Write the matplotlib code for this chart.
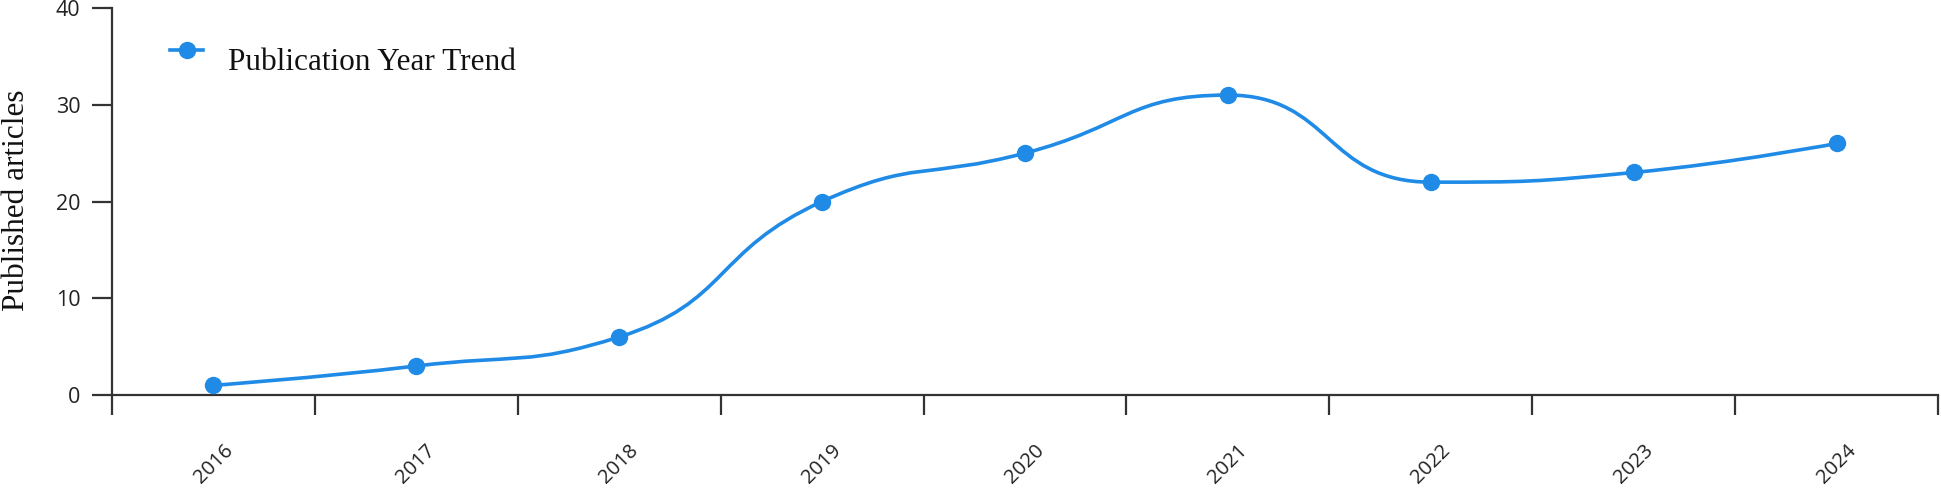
import matplotlib

matplotlib.use("Agg")
import matplotlib.pyplot as plt
import numpy as np
from matplotlib.lines import Line2D
from matplotlib.patches import PathPatch
from matplotlib.path import Path

years = ["2016", "2017", "2018", "2019", "2020", "2021", "2022", "2023", "2024"]
articles = [1, 3, 6, 20, 25, 31, 22, 23, 26]
y_ticks = [0, 10, 20, 30, 40]
series_name = "Publication Year Trend"

LINE_COLOR = "#1f8be6"
AXIS_COLOR = "#333333"
LABEL_COLOR = "#222222"


def smooth_path(px, py, smooth=0.5):
    """Bezier path through pixel points, same clamped scheme as echarts' smooth line."""
    verts = [(px[0], py[0])]
    codes = [Path.MOVETO]
    cp0x, cp0y = px[0], py[0]
    n = len(px)
    for i in range(1, n):
        x, y = px[i], py[i]
        prev_x, prev_y = px[i - 1], py[i - 1]
        if i == n - 1:
            cp1x, cp1y = x, y
            nx0, ny0 = x, y
        else:
            next_x, next_y = px[i + 1], py[i + 1]
            vx, vy = next_x - prev_x, next_y - prev_y
            len_prev = np.hypot(x - prev_x, y - prev_y)
            len_next = np.hypot(next_x - x, next_y - y)
            ratio = len_next / (len_next + len_prev)
            nx0 = x + vx * smooth * ratio
            ny0 = y + vy * smooth * ratio
            nx0 = max(min(nx0, max(next_x, x)), min(next_x, x))
            ny0 = max(min(ny0, max(next_y, y)), min(next_y, y))
            vx, vy = nx0 - x, ny0 - y
            cp1x = x - vx * len_prev / len_next
            cp1y = y - vy * len_prev / len_next
            cp1x = max(min(cp1x, max(prev_x, x)), min(prev_x, x))
            cp1y = max(min(cp1y, max(prev_y, y)), min(prev_y, y))
            vx, vy = x - cp1x, y - cp1y
            nx0 = x + vx * len_next / len_prev
            ny0 = y + vy * len_next / len_prev
        verts += [(cp0x, cp0y), (cp1x, cp1y), (x, y)]
        codes += [Path.CURVE4] * 3
        cp0x, cp0y = nx0, ny0
    return np.array(verts), codes


W, H = 1941, 488
fig = plt.figure(figsize=(W / 100, H / 100), dpi=100)
ax = fig.add_axes([112 / W, 1 - 395 / H, (1938 - 112) / W, (395 - 8) / H])

x = np.arange(len(years))
ax.set_xlim(-0.5, len(years) - 0.5)
ax.set_ylim(0, 40)

# smooth line computed in pixel space, then mapped back to data
pix = ax.transData.transform(np.column_stack([x, articles]))
verts, codes = smooth_path(pix[:, 0], pix[:, 1])
verts = ax.transData.inverted().transform(verts)
ax.add_patch(PathPatch(Path(verts, codes), facecolor="none", edgecolor=LINE_COLOR,
                       linewidth=2.6, capstyle="round", joinstyle="round", zorder=3))
ax.plot(x, articles, linestyle="none", marker="o", markersize=11.5,
        color=LINE_COLOR, zorder=4)

for side in ("top", "right"):
    ax.spines[side].set_visible(False)
for side in ("left", "bottom"):
    ax.spines[side].set_color(AXIS_COLOR)
    ax.spines[side].set_linewidth(1.6)

# category axis: boundary ticks, labels centred in each band
ax.set_xticks(np.arange(-0.5, len(years)), labels=[""] * (len(years) + 1))
ax.set_xticks(x, labels=years, minor=True)
ax.tick_params(axis="x", which="major", length=14.4, width=1.6, color=AXIS_COLOR,
               direction="out")
ax.tick_params(axis="x", which="minor", length=0, pad=33)
for lab in ax.get_xticklabels(minor=True):
    lab.set_rotation(45)
    lab.set_ha("center")
    lab.set_va("top")
    lab.set_fontfamily("Open Sans")
    lab.set_fontsize(14.6)
    lab.set_color(LABEL_COLOR)

ax.set_yticks(y_ticks)
ax.tick_params(axis="y", length=14.4, width=1.6, color=AXIS_COLOR, pad=8.5,
               labelsize=15.5, labelcolor=LABEL_COLOR)
for lab in ax.get_yticklabels():
    lab.set_fontfamily("Open Sans")

ax.set_ylabel("Published articles", fontfamily="Liberation Serif", fontsize=22.5,
              color="#111111")
ax.yaxis.set_label_coords(31 / W, 1 - 200 / H, transform=fig.transFigure)

# legend drawn by hand: echarts puts the icon a bit above the text centre
fig.add_artist(Line2D([170 / W, 203 / W], [1 - 50 / H] * 2, transform=fig.transFigure,
                      color=LINE_COLOR, linewidth=2.6))
fig.add_artist(Line2D([186.5 / W], [1 - 50 / H], transform=fig.transFigure,
                      linestyle="none", marker="o", markersize=11.5, color=LINE_COLOR))
fig.text(228 / W, 1 - 70 / H, series_name, fontfamily="Liberation Serif",
         fontsize=22.5, color="#111111", ha="left", va="baseline")

fig.savefig("out.png", dpi=100)
plt.close(fig)
